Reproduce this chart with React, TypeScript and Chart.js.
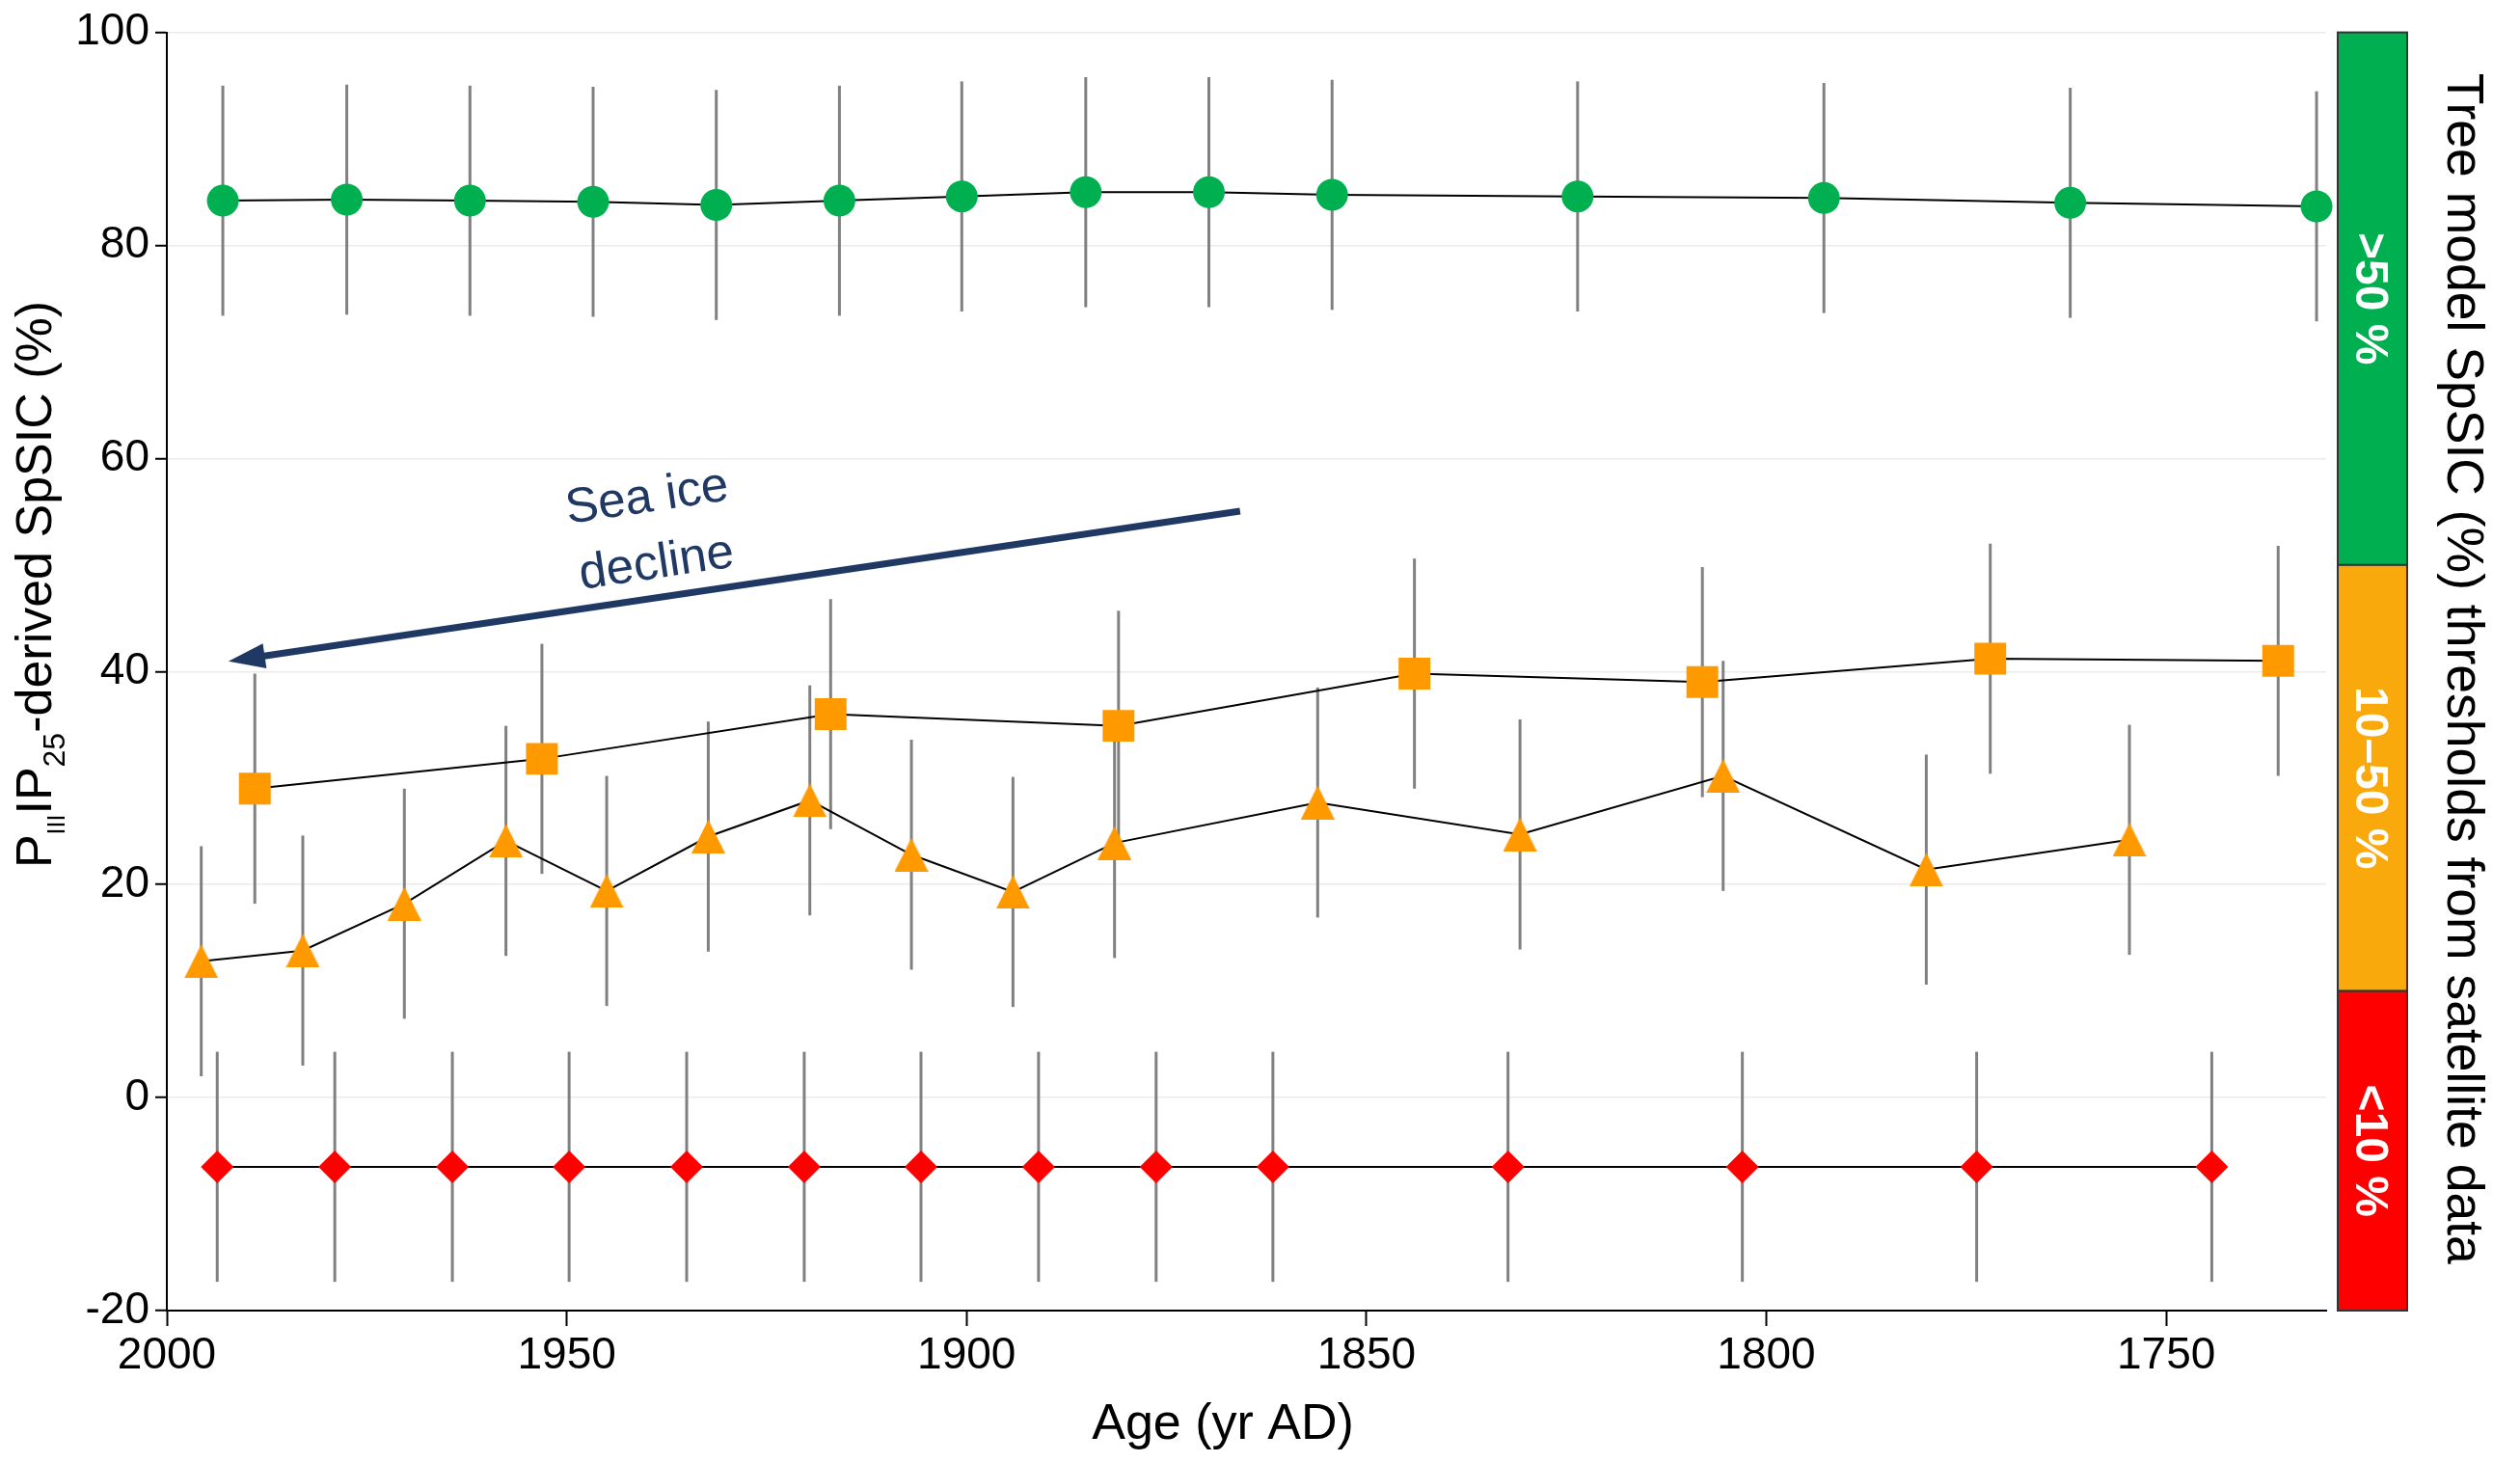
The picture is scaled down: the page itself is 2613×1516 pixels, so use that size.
import { useEffect, useRef } from 'react';
import { Chart, registerables } from 'chart.js';

Chart.register(...registerables);

// ---- data ----
const greenYears = [1993.0, 1977.5, 1962.1, 1946.7, 1931.3, 1915.9, 1900.6, 1885.1, 1869.7, 1854.3, 1823.6, 1792.8, 1762.0, 1731.2];
const greenValues = [84.2, 84.3, 84.2, 84.1, 83.8, 84.2, 84.6, 85.0, 85.0, 84.75, 84.6, 84.45, 84.0, 83.67];
const greenErrors = [10.8, 10.8, 10.8, 10.8, 10.8, 10.8, 10.8, 10.8, 10.8, 10.8, 10.8, 10.8, 10.8, 10.8];

const squareYears = [1989.0, 1953.1, 1917.0, 1881.0, 1844.0, 1808.0, 1772.0, 1736.0];
const squareValues = [29.0, 31.8, 36.0, 34.9, 39.8, 39.0, 41.2, 41.0];
const squareErrors = [10.8, 10.8, 10.8, 10.8, 10.8, 10.8, 10.8, 10.8];

const triangleYears = [1995.7, 1983.0, 1970.3, 1957.6, 1945.0, 1932.3, 1919.6, 1906.9, 1894.2, 1881.5, 1856.1, 1830.8, 1805.4, 1780.0, 1754.6];
const triangleValues = [12.8, 13.8, 18.2, 24.1, 19.4, 24.5, 27.9, 22.8, 19.3, 23.9, 27.7, 24.7, 30.2, 21.4, 24.2];
const triangleErrors = [10.8, 10.8, 10.8, 10.8, 10.8, 10.8, 10.8, 10.8, 10.8, 10.8, 10.8, 10.8, 10.8, 10.8, 10.8];

const redYears = [1993.7, 1979.0, 1964.3, 1949.7, 1935.0, 1920.3, 1905.7, 1891.0, 1876.3, 1861.7, 1832.3, 1803.0, 1773.7, 1744.3];
const redValues = [-6.5, -6.5, -6.5, -6.5, -6.5, -6.5, -6.5, -6.5, -6.5, -6.5, -6.5, -6.5, -6.5, -6.5];
const redErrors = [10.8, 10.8, 10.8, 10.8, 10.8, 10.8, 10.8, 10.8, 10.8, 10.8, 10.8, 10.8, 10.8, 10.8];

const xTickValues = [2000, 1950, 1900, 1850, 1800, 1750];
const yTickValues = [-20, 0, 20, 40, 60, 80, 100];

// threshold bands (SpSIC %)
const bandLabels = ['>50 %', '10\u201350 %', '<10 %'];
const bandLow = [50, 10, -20];
const bandHigh = [100, 50, 10];
const bandColors = ['#00b050', '#f9a90b', '#ff0000'];

// annotation arrow (year, value)
const arrowTail = [1865.8, 55.06];
const arrowTip = [1992.3, 40.96];
const arrowTextLines = ['Sea ice', 'decline'];
const arrowTextYears = [1939.7, 1938.5];
const arrowTextValues = [55.0, 48.8];

const FONT = '"Liberation Sans", Arial, sans-serif';

function toPoints(xs: number[], ys: number[]) {
  return xs.map((x, i) => ({ x, y: ys[i] }));
}

function makeTriangle(color: string) {
  const c = document.createElement('canvas');
  c.width = 35;
  c.height = 35;
  const g = c.getContext('2d')!;
  g.fillStyle = color;
  g.beginPath();
  g.moveTo(17.5, 0);
  g.lineTo(35, 35);
  g.lineTo(0, 35);
  g.closePath();
  g.fill();
  return c;
}

const extrasPlugin = {
  id: 'extras',
  beforeDatasetsDraw(chart: any) {
    const ctx = chart.ctx;
    const xs = chart.scales.x;
    const ys = chart.scales.y;
    ctx.save();
    ctx.strokeStyle = '#808080';
    ctx.lineWidth = 3;
    chart.data.datasets.forEach((ds: any) => {
      const errs: number[] = ds.errors || [];
      ds.data.forEach((p: any, i: number) => {
        const x = xs.getPixelForValue(p.x);
        ctx.beginPath();
        ctx.moveTo(x, ys.getPixelForValue(p.y + errs[i]));
        ctx.lineTo(x, ys.getPixelForValue(p.y - errs[i]));
        ctx.stroke();
      });
    });
    ctx.restore();
  },
  afterDraw(chart: any) {
    const ctx = chart.ctx;
    const xs = chart.scales.x;
    const ys = chart.scales.y;
    const area = chart.chartArea;
    ctx.save();

    // colour threshold bar
    const bx = area.right + 12;
    const bw = 72;
    for (let i = 0; i < bandLabels.length; i++) {
      const top = ys.getPixelForValue(bandHigh[i]);
      const bot = ys.getPixelForValue(bandLow[i]);
      ctx.fillStyle = bandColors[i];
      ctx.fillRect(bx, top, bw, bot - top);
      ctx.strokeStyle = '#333333';
      ctx.lineWidth = 2;
      ctx.strokeRect(bx, top, bw, bot - top);
      ctx.save();
      ctx.translate(bx + bw / 2, (top + bot) / 2);
      ctx.rotate(Math.PI / 2);
      ctx.fillStyle = '#ffffff';
      ctx.font = 'bold 48px ' + FONT;
      ctx.textAlign = 'center';
      ctx.textBaseline = 'alphabetic';
      ctx.fillText(bandLabels[i], 0, 17);
      ctx.restore();
    }

    // right title
    ctx.save();
    ctx.translate(2538, (area.top + area.bottom) / 2 - 3);
    ctx.rotate(Math.PI / 2);
    ctx.fillStyle = '#000';
    ctx.font = '53.5px ' + FONT;
    ctx.textAlign = 'center';
    ctx.textBaseline = 'alphabetic';
    ctx.fillText('Tree model SpSIC (%) thresholds from satellite data', 0, 0);
    ctx.restore();

    // left title with subscripts
    ctx.save();
    ctx.translate(53, 606);
    ctx.rotate(-Math.PI / 2);
    ctx.fillStyle = '#000';
    ctx.textAlign = 'left';
    ctx.textBaseline = 'alphabetic';
    const segs = [
      { t: 'P', f: '52px ' + FONT, dy: 0 },
      { t: 'III', f: '25px ' + FONT, dy: 14 },
      { t: 'IP', f: '52px ' + FONT, dy: 0 },
      { t: '25', f: '32px ' + FONT, dy: 14 },
      { t: '-derived SpSIC (%)', f: '52px ' + FONT, dy: 0 },
    ];
    let total = 0;
    segs.forEach((s) => {
      ctx.font = s.f;
      total += ctx.measureText(s.t).width;
    });
    let cx = -total / 2;
    segs.forEach((s) => {
      ctx.font = s.f;
      ctx.fillText(s.t, cx, s.dy);
      cx += ctx.measureText(s.t).width;
    });
    ctx.restore();

    // bottom title
    ctx.fillStyle = '#000';
    ctx.font = '52px ' + FONT;
    ctx.textAlign = 'center';
    ctx.textBaseline = 'alphabetic';
    ctx.fillText('Age (yr AD)', 1268, 1492);

    // arrow
    const x0 = xs.getPixelForValue(arrowTail[0]);
    const y0 = ys.getPixelForValue(arrowTail[1]);
    const x1 = xs.getPixelForValue(arrowTip[0]);
    const y1 = ys.getPixelForValue(arrowTip[1]);
    const dx = x1 - x0;
    const dy = y1 - y0;
    const len = Math.hypot(dx, dy);
    const ux = dx / len;
    const uy = dy / len;
    const headLen = 38;
    const headHalf = 13;
    const navy = '#203864';
    ctx.strokeStyle = navy;
    ctx.fillStyle = navy;
    ctx.lineWidth = 7;
    ctx.beginPath();
    ctx.moveTo(x0, y0);
    ctx.lineTo(x1 - ux * (headLen - 4), y1 - uy * (headLen - 4));
    ctx.stroke();
    const bxp = x1 - ux * headLen;
    const byp = y1 - uy * headLen;
    ctx.beginPath();
    ctx.moveTo(x1, y1);
    ctx.lineTo(bxp - uy * headHalf, byp + ux * headHalf);
    ctx.lineTo(bxp + uy * headHalf, byp - ux * headHalf);
    ctx.closePath();
    ctx.fill();

    const ang = Math.atan2(dy, dx) + Math.PI; // text direction (left to right, rising)
    ctx.font = '51px ' + FONT;
    ctx.textAlign = 'center';
    ctx.textBaseline = 'alphabetic';
    for (let i = 0; i < arrowTextLines.length; i++) {
      ctx.save();
      ctx.translate(xs.getPixelForValue(arrowTextYears[i]), ys.getPixelForValue(arrowTextValues[i]));
      ctx.rotate(ang);
      ctx.fillText(arrowTextLines[i], 0, 0);
      ctx.restore();
    }

    ctx.restore();
  },
};

export default function App() {
  const ref = useRef<HTMLCanvasElement>(null);

  useEffect(() => {
    document.body.style.margin = '0';
    const canvas = ref.current!;
    const tri = makeTriangle('#ff9900');
    const common = {
      type: 'line' as const,
      borderColor: '#000000',
      borderWidth: 2,
      tension: 0,
      clip: false,
      pointBorderWidth: 0,
      pointHoverRadius: 0,
    };
    const chart = new Chart(canvas, {
      type: 'line',
      data: {
        datasets: [
          {
            ...common,
            label: 'green',
            data: toPoints(greenYears, greenValues),
            errors: greenErrors,
            pointStyle: 'circle',
            pointRadius: 16.5,
            pointBackgroundColor: '#00b050',
            pointBorderColor: '#00b050',
          } as any,
          {
            ...common,
            label: 'squares',
            data: toPoints(squareYears, squareValues),
            errors: squareErrors,
            pointStyle: 'rect',
            pointRadius: 23.3,
            pointBackgroundColor: '#ff9900',
            pointBorderColor: '#ff9900',
          } as any,
          {
            ...common,
            label: 'triangles',
            data: toPoints(triangleYears, triangleValues),
            errors: triangleErrors,
            pointStyle: tri,
            pointRadius: 17,
            pointBackgroundColor: '#ff9900',
            pointBorderColor: '#ff9900',
          } as any,
          {
            ...common,
            label: 'red',
            data: toPoints(redYears, redValues),
            errors: redErrors,
            pointStyle: 'rectRot',
            pointRadius: 17,
            pointBackgroundColor: '#ff0000',
            pointBorderColor: '#ff0000',
          } as any,
        ],
      },
      options: {
        animation: false,
        responsive: false,
        maintainAspectRatio: false,
        events: [],
        layout: { padding: { left: 0, right: 201, top: 32, bottom: 0 } },
        plugins: { legend: { display: false }, tooltip: { enabled: false } },
        scales: {
          x: {
            type: 'linear',
            reverse: true,
            min: 1730,
            max: 2000,
            afterBuildTicks: (axis: any) => {
              axis.ticks = xTickValues.map((v) => ({ value: v }));
            },
            afterFit: (axis: any) => {
              axis.height = 157;
            },
            grid: { drawOnChartArea: false, tickLength: 16, tickColor: '#000', tickWidth: 2 },
            border: { display: true, color: '#000', width: 2 },
            ticks: {
              color: '#000',
              font: { family: FONT, size: 46 },
              padding: 4,
              maxRotation: 0,
              autoSkip: false,
              callback: (v: any) => String(v),
            },
          },
          y: {
            type: 'linear',
            min: -20,
            max: 100,
            afterBuildTicks: (axis: any) => {
              axis.ticks = yTickValues.map((v) => ({ value: v }));
            },
            afterFit: (axis: any) => {
              axis.width = 173;
            },
            grid: { color: '#ebebeb', lineWidth: 1.5, tickLength: 12, tickColor: '#000', tickWidth: 2 },
            border: { display: true, color: '#000', width: 2 },
            ticks: {
              color: '#000',
              font: { family: FONT, size: 46 },
              padding: 6,
              callback: (v: any) => String(v),
            },
          },
        },
      } as any,
      plugins: [extrasPlugin],
    });
    return () => chart.destroy();
  }, []);

  return (
    <div style={{ width: 2613, height: 1516 }}>
      <canvas ref={ref} width={2613} height={1516} style={{ display: 'block' }} />
    </div>
  );
}
